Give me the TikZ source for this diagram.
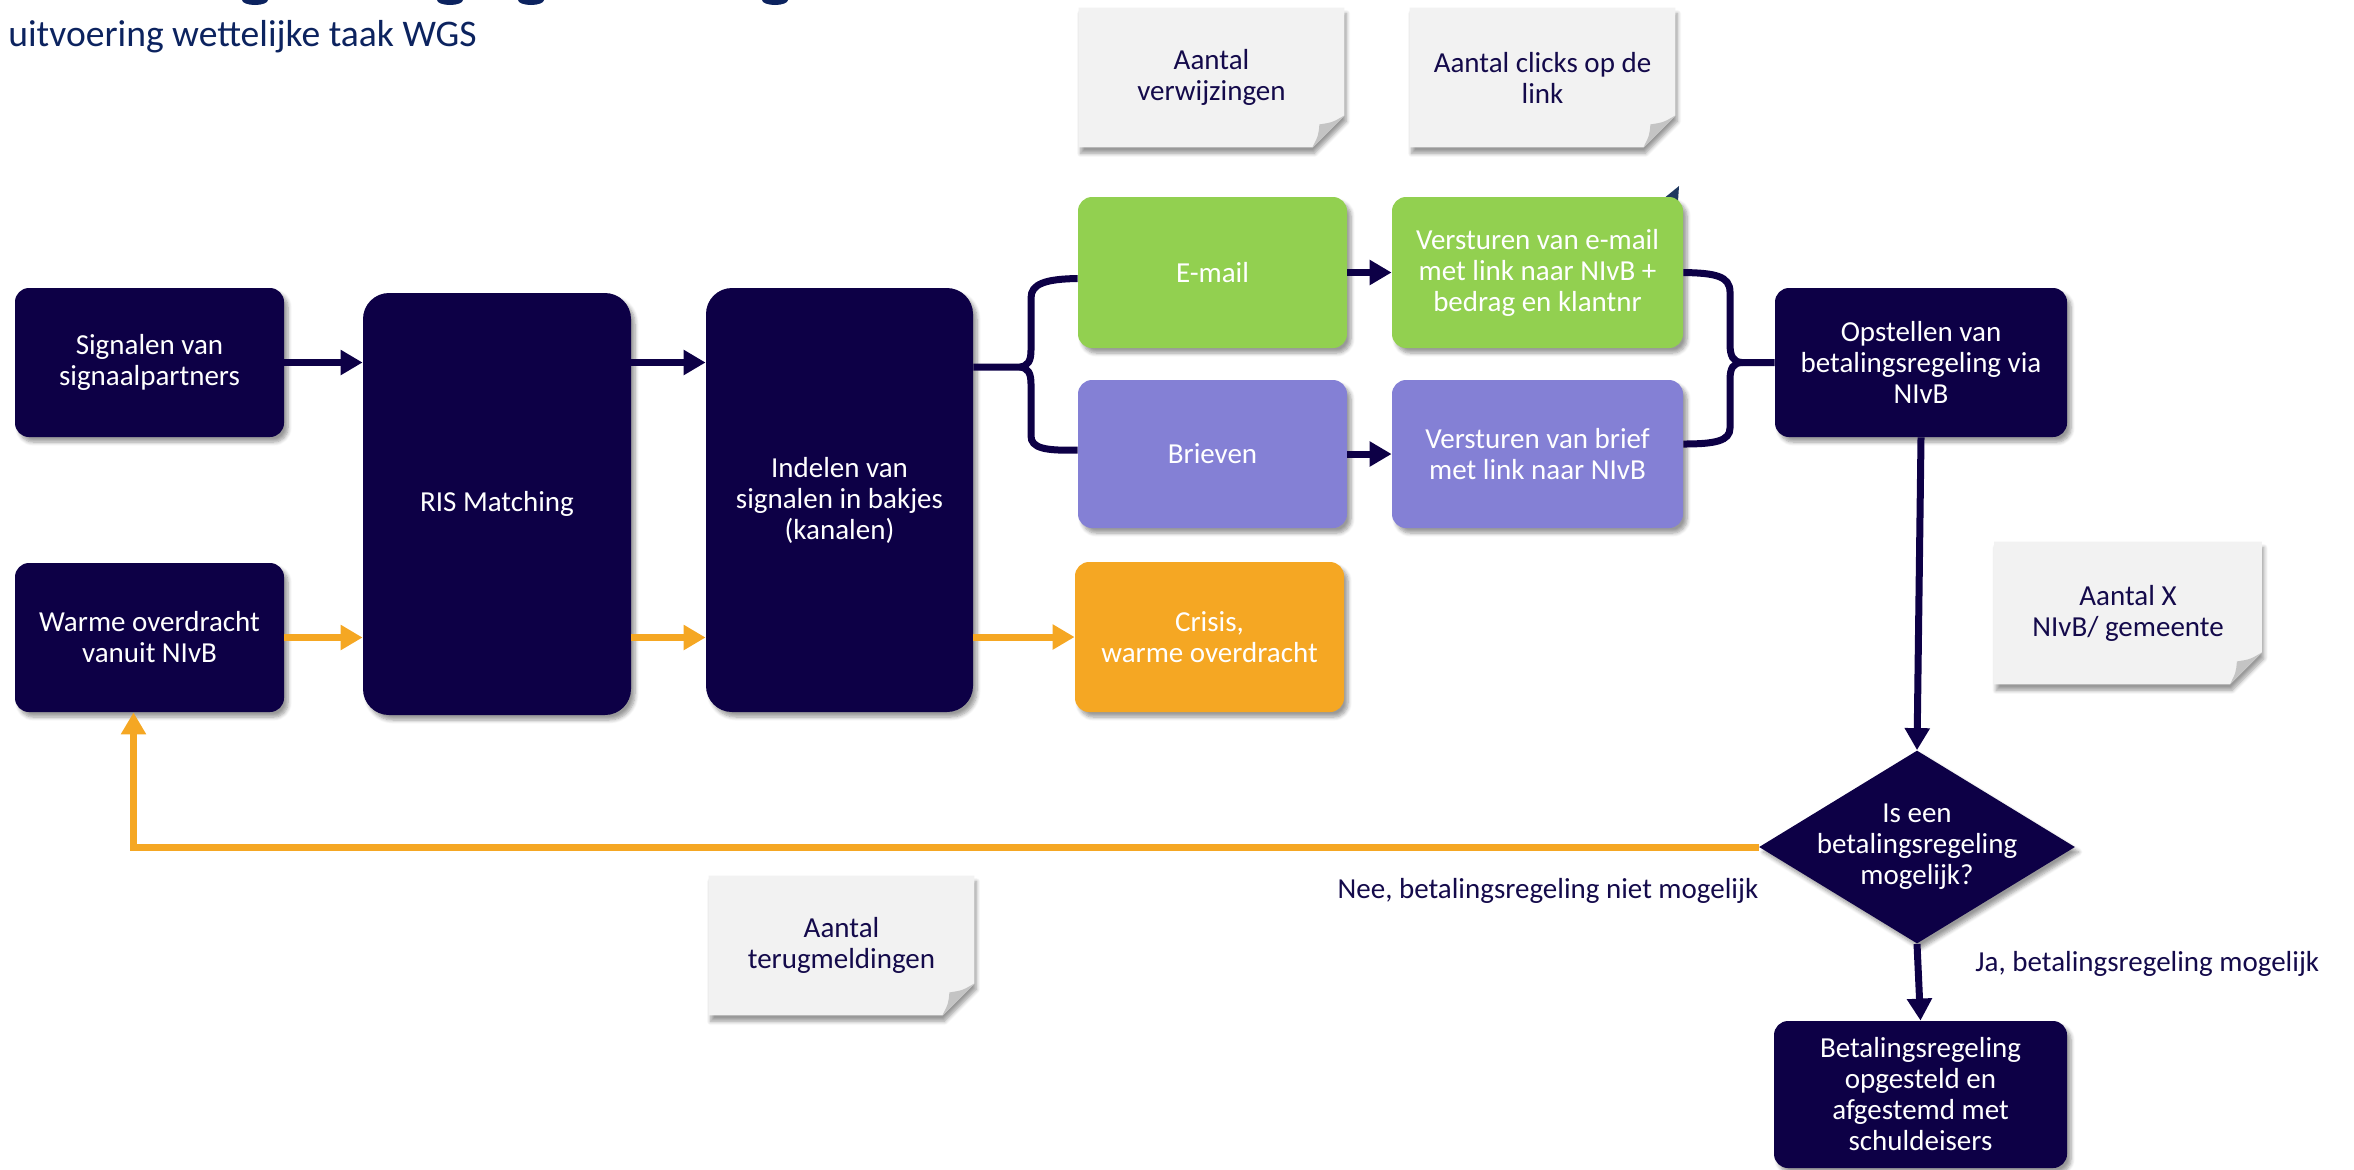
\documentclass[tikz,border=0pt]{standalone}
\usepackage{fontspec}
\setmainfont{Carlito}
\usetikzlibrary{arrows.meta,shapes.geometric,shadows.blur,calc}
\definecolor{navy}{RGB}{13,0,70}
\definecolor{txtnavy}{RGB}{20,10,75}
\definecolor{titleblue}{RGB}{12,35,95}
\definecolor{greenbox}{RGB}{146,208,80}
\definecolor{purplebox}{RGB}{132,128,213}
\definecolor{orangebox}{RGB}{245,167,35}
\definecolor{notefill}{RGB}{242,242,242}
\definecolor{foldfill}{RGB}{196,196,196}
\definecolor{artifact}{RGB}{30,55,95}
\newcommand{\boxfont}{\fontsize{14.5}{15.5}\selectfont}
\pgfdeclarelayer{bg}
\pgfsetlayers{bg,main}
\newcommand{\drawnote}[1]{%
  \begin{pgfonlayer}{bg}
  \fill[notefill, blur shadow={shadow xshift=1pt, shadow yshift=-3pt, shadow opacity=40, shadow blur steps=8}]
    (#1.north west) -- (#1.north east) -- ([yshift=16pt]#1.south east)
    -- ([xshift=-16pt]#1.south east) -- (#1.south west) -- cycle;
  \fill[foldfill] ([yshift=16pt]#1.south east)
    .. controls ([xshift=-6pt,yshift=12.5pt]#1.south east) .. ([xshift=-12.5pt,yshift=11.5pt]#1.south east)
    .. controls ([xshift=-13pt,yshift=6pt]#1.south east) .. ([xshift=-16pt]#1.south east) -- cycle;
  \end{pgfonlayer}}
\tikzset{
  shade box/.style={blur shadow={shadow xshift=2pt, shadow yshift=-2.5pt, shadow opacity=40, shadow blur steps=6}},
  basebox/.style={rectangle, rounded corners=7pt, text=white, font=\boxfont, align=center, inner sep=0pt, shade box},
  navybox/.style={basebox, fill=navy},
  greenb/.style={basebox, fill=greenbox},
  purpleb/.style={basebox, fill=purplebox},
  orangeb/.style={basebox, fill=orangebox},
  notebox/.style={rectangle, inner sep=0pt, text=txtnavy, font=\boxfont, align=center, minimum width=132.5pt, minimum height=69.5pt},
  navyarrow/.style={draw=navy, line width=3.5pt, -{Triangle[length=11pt,width=12pt]}},
  orangearrow/.style={draw=orangebox, line width=3.5pt, -{Triangle[length=11pt,width=12pt]}},
  bracepath/.style={draw=navy, line width=3.5pt},
  lbl/.style={text=txtnavy, font=\boxfont, inner sep=0pt},
}
\begin{document}
\begin{tikzpicture}[x=0.5pt,y=-0.5pt]
\useasboundingbox (0,0) rectangle (2354,1169);

% cut-off title fragments
\begin{scope}
\clip (0,0) rectangle (2354,1169);
\fill[titleblue] (255,0) ellipse[x radius=6.5pt, y radius=2.5pt];
\fill[titleblue] (450,0) ellipse[x radius=6.5pt, y radius=2.5pt];
\fill[titleblue] (531,0) ellipse[x radius=6.5pt, y radius=2.5pt];
\fill[titleblue] (775,0) ellipse[x radius=6.5pt, y radius=2.5pt];
\end{scope}
\node[anchor=base west, inner sep=0pt, text=titleblue, font=\fontsize{18.8}{20}\selectfont] (title) at (8,46) {uitvoering wettelijke taak WGS};

% small artifact triangle
\fill[artifact] (1663,199) -- (1679,186) -- (1678,201) -- cycle;

% process boxes
\node[navybox, minimum width=134.5pt, minimum height=74.5pt] (sig) at (149.5,362.5) {Signalen van\\signaalpartners};
\node[navybox, minimum width=134.5pt, minimum height=74.5pt] (warm) at (149.5,637.5) {Warme overdracht\\vanuit NIvB};
\node[navybox, rounded corners=13pt, minimum width=134pt, minimum height=211pt] (ris) at (497,504) {RIS Matching};
\node[navybox, rounded corners=13pt, minimum width=133.5pt, minimum height=212pt] (ind) at (839.5,500) {Indelen van\\signalen in bakjes\\(kanalen)};
\node[greenb, minimum width=134.5pt, minimum height=75.5pt] (email) at (1212.5,272.5) {E-mail};
\node[greenb, minimum width=145.5pt, minimum height=75.5pt] (vemail) at (1537.5,272.5) {Versturen van e-mail\\met link naar NIvB +\\bedrag en klantnr};
\node[purpleb, minimum width=134.5pt, minimum height=74pt] (brief) at (1212.5,454) {Brieven};
\node[purpleb, minimum width=145.5pt, minimum height=74pt] (vbrief) at (1537.5,454) {Versturen van brief\\met link naar NIvB};
\node[orangeb, minimum width=134.5pt, minimum height=75pt] (crisis) at (1209.5,637) {Crisis,\\warme overdracht};
\node[navybox, minimum width=146pt, minimum height=74.5pt] (ops) at (1921,362.5) {Opstellen van\\betalingsregeling via\\NIvB};
\node[diamond, fill=navy, inner sep=0pt, minimum width=158pt, minimum height=96.5pt, shade box] (dia) at (1917,847) {};
\node[text=white, font=\boxfont, align=center, inner sep=0pt] (diatext) at (dia.center) {Is een\\betalingsregeling\\mogelijk?};
\node[navybox, minimum width=146.5pt, minimum height=73.5pt] (bet) at (1920.5,1094.5) {Betalingsregeling\\opgesteld en\\afgestemd met\\schuldeisers};

% notes
\node[notebox] (n1) at (1211.5,77.5) {Aantal\\verwijzingen};
\drawnote{n1}
\node[notebox] (n2) at (1542.5,77.5) {Aantal clicks op de\\link};
\drawnote{n2}
\node[notebox, minimum width=133.5pt, minimum height=71pt] (n3) at (2128,613) {Aantal X\\NIvB/ gemeente};
\drawnote{n3}
\node[notebox] (n4) at (841.5,945.5) {Aantal\\terugmeldingen};
\drawnote{n4}

% arrows
\draw[navyarrow] (sig.east) -- (sig.east -| ris.west);
\draw[navyarrow] (ris.east |- sig.east) -- (ind.west |- sig.east);
\draw[orangearrow] (warm.east) -- (warm.east -| ris.west);
\draw[orangearrow] (ris.east |- warm.east) -- (ind.west |- warm.east);
\draw[orangearrow] (ind.east |- crisis.west) -- (crisis.west);
\draw[navyarrow] (email.east) -- (vemail.west);
\draw[navyarrow] (brief.east) -- (vbrief.west);
\draw[navyarrow] (ops.south) -- (dia.north);
\draw[navyarrow] (dia.south) -- (bet.north);
\draw[orangearrow] (dia.west) -| ([xshift=-8pt]warm.south);

% left brace
\coordinate (lbtip) at (1020,367);
\draw[bracepath] (ind.east |- lbtip) -- (lbtip)
  .. controls (1028,366) and (1031,361) .. (1031,350) -- (1031,298)
  .. controls (1031,284) and (1045,279) .. ([yshift=-3pt]email.west);
\draw[bracepath] (lbtip)
  .. controls (1028,368) and (1031,373) .. (1031,384) -- (1031,436)
  .. controls (1031,448) and (1045,451) .. ([yshift=2pt]brief.west);

% right brace
\coordinate (rbtip) at (1742,362.5);
\draw[bracepath] (vemail.east)
  .. controls (1715,273) and (1730,276) .. (1730,292) -- (1730,344)
  .. controls (1730,356) and (1733,362) .. (rbtip) -- (ops.west);
\draw[bracepath] ([yshift=5pt]vbrief.east)
  .. controls (1715,444) and (1730,441) .. (1730,428) -- (1730,380)
  .. controls (1730,368) and (1733,363) .. (rbtip);

% labels
\node[lbl, anchor=east] (nee) at ([yshift=-22pt]dia.west) {Nee, betalingsregeling niet mogelijk};
\node[lbl, anchor=west] (ja) at ([xshift=29pt,yshift=-10pt]dia.south) {Ja, betalingsregeling mogelijk};
\end{tikzpicture}
\end{document}
